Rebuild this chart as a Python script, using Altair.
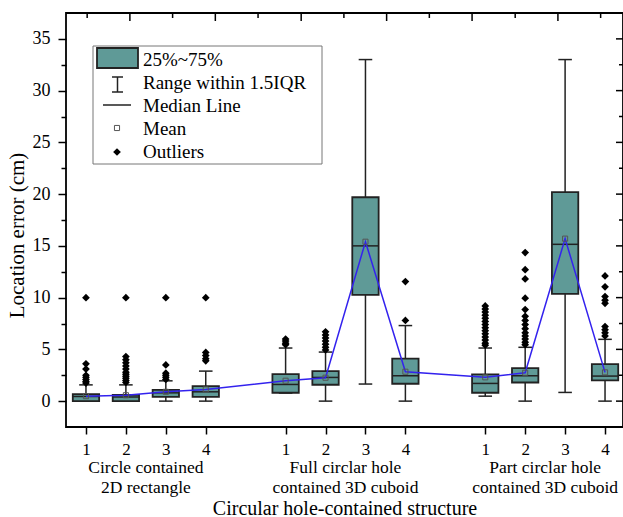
import altair as alt
import pandas as pd

# ---------------- data ----------------
positions = [1, 2, 3, 4, 6, 7, 8, 9, 11, 12, 13, 14]
group_of = [0, 0, 0, 0, 1, 1, 1, 1, 2, 2, 2, 2]
group_labels = ["Circle contained\n2D rectangle",
                "Full circlar hole\ncontained 3D cuboid",
                "Part circlar hole\ncontained 3D cuboid"]

q1_vals = [0.0, 0.0, 0.42, 0.42, 0.81, 1.58, 10.26, 1.68, 0.81, 1.80, 10.36, 2.00]
median_vals = [0.45, 0.40, 0.80, 0.90, 1.61, 2.29, 15.0, 2.45, 1.71, 2.45, 15.15, 2.42]
q3_vals = [0.67, 0.60, 1.09, 1.45, 2.61, 2.90, 19.7, 4.10, 2.58, 3.19, 20.2, 3.58]
low_vals = [0.0, 0.0, 0.0, 0.0, 0.78, 0.0, 1.65, 0.0, 0.48, 0.0, 0.84, 0.0]
high_vals = [1.57, 1.57, 1.96, 2.90, 5.13, 4.74, 33.0, 7.30, 5.13, 5.20, 33.0, 5.97]
mean_vals = [0.48, 0.57, 0.90, 1.13, 1.97, 2.26, 15.4, 2.84, 2.30, 2.74, 15.7, 2.78]

outlier_vals = [
    [10.0, 3.6, 3.1, 2.5, 2.3, 2.1, 1.9, 1.75],
    [10.0, 4.3, 4.0, 3.7, 3.4, 3.1, 2.8, 2.6, 2.4, 2.2, 2.0, 1.8],
    [10.0, 3.5, 2.7, 2.5, 2.3, 2.1],
    [10.0, 4.7, 4.4, 4.1, 3.9],
    [6.0, 5.8, 5.6, 5.45],
    [6.7, 6.4, 6.1, 5.8, 5.5, 5.2, 4.95],
    [],
    [11.55, 7.8],
    [9.2, 8.9, 8.6, 8.3, 8.0, 7.7, 7.4, 7.1, 6.8, 6.5, 6.2, 5.9, 5.6, 5.4],
    [14.35, 12.7, 11.8, 9.95, 8.85, 8.2, 7.8, 7.4, 7.0, 6.6, 6.3, 6.0, 5.7, 5.45],
    [],
    [12.1, 11.05, 10.1, 9.75, 9.45, 7.2, 6.9, 6.6, 6.3],
]

y_tick_vals = [0, 2.5, 5, 7.5, 10, 12.5, 15, 17.5, 20, 22.5, 25, 27.5, 30, 32.5, 35]
top_tick_vals = [1.03, 2.10, 3.17, 4.24, 5.31, 6.39, 7.46, 8.53, 9.60, 10.67, 11.75, 12.82, 13.89]

legend_labels = ["25%~75%", "Range within 1.5IQR", "Median Line", "Mean", "Outliers"]

# ---------------- style ----------------
W, H = 557, 414
FONT = "Liberation Serif"
TEAL = "#5f9a97"
EDGE = "#222222"
BLUE = "#3322ee"

stats = pd.DataFrame({
    "pos": positions, "q1": q1_vals, "med": median_vals, "q3": q3_vals,
    "lo": low_vals, "hi": high_vals, "mean": mean_vals,
})
out_df = pd.DataFrame([{"pos": p, "v": v} for p, vals in zip(positions, outlier_vals) for v in vals])
grp_df = pd.DataFrame({
    "g": group_labels,
    "gx": [sum(p for p, g in zip(positions, group_of) if g == k) / group_of.count(k) for k in range(3)],
})
ytick_df = pd.DataFrame({"t": y_tick_vals})
ytick_df["major"] = ytick_df["t"] % 5 == 0
ttick_df = pd.DataFrame({"t": top_tick_vals, "major": [i % 2 == 1 for i in range(len(top_tick_vals))]})

xscale = alt.Scale(domain=[0.5, 14.45], nice=False, zero=False)
yscale = alt.Scale(domain=[-2.5, 37.5], nice=False, zero=False)

x_axis = alt.Axis(
    values=positions,
    labelExpr="datum.value <= 4 ? datum.value : (datum.value <= 9 ? datum.value - 5 : datum.value - 10)",
    title="Circular hole-contained structure",
    grid=False, domain=False, tickColor="black", tickWidth=1.5, tickSize=7,
    labelFont=FONT, labelFontSize=17, labelColor="black", labelPadding=7,
    titleFont=FONT, titleFontSize=20, titleFontWeight="normal", titleColor="black",
    titleBaseline="middle", titleY=81,
)
y_axis = alt.Axis(
    values=y_tick_vals,
    labelExpr="datum.value % 5 === 0 ? datum.label : ''",
    tickSize={"condition": {"test": "datum.value % 5 === 0", "value": 8}, "value": 5},
    title="Location error (cm)",
    grid=False, domain=False, tickColor="black", tickWidth=1.5,
    labelFont=FONT, labelFontSize=18, labelColor="black", labelPadding=8,
    titleFont=FONT, titleFontSize=21, titleFontWeight="normal", titleColor="black",
    titleBaseline="middle", titleX=-49, titleY=222,
)


def X(field):
    return alt.X(field, scale=xscale, axis=x_axis)


def Y(field):
    return alt.Y(field, scale=yscale, axis=y_axis)


base = alt.Chart(stats).transform_calculate(
    bl="datum.pos - 0.33", br="datum.pos + 0.33",
    cl="datum.pos - 0.17", cr="datum.pos + 0.17",
)

whiskers = base.mark_rule(color=EDGE, strokeWidth=1.5).encode(
    x=X("pos:Q"), y=Y("lo:Q"), y2="hi:Q",
)
cap_hi = base.mark_rule(color=EDGE, strokeWidth=1.5).encode(
    x=X("cl:Q"), x2="cr:Q", y=Y("hi:Q"),
)
cap_lo = base.mark_rule(color=EDGE, strokeWidth=1.5).encode(
    x=X("cl:Q"), x2="cr:Q", y=Y("lo:Q"),
)
boxes = base.mark_rect(fill=TEAL, stroke=EDGE, strokeWidth=1.8).encode(
    x=X("bl:Q"), x2="br:Q", y=Y("q1:Q"), y2="q3:Q",
)
medians = base.mark_rule(color=EDGE, strokeWidth=1.5).encode(
    x=X("bl:Q"), x2="br:Q", y=Y("med:Q"),
)
outliers = alt.Chart(out_df).mark_point(shape="diamond", filled=True, color="black", size=60, opacity=1).encode(
    x=X("pos:Q"), y=Y("v:Q"),
)
mean_line = base.mark_line(color=BLUE, strokeWidth=1.5).encode(
    x=X("pos:Q"), y=Y("mean:Q"),
)
mean_pts = base.mark_point(shape="square", filled=False, color="#555555", size=26, strokeWidth=1, opacity=1).encode(
    x=X("pos:Q"), y=Y("mean:Q"),
)
groups = alt.Chart(grp_df).mark_text(
    font=FONT, fontSize=17.5, color="black", lineBreak="\n", lineHeight=20,
    baseline="alphabetic", align="center",
).encode(
    x=X("gx:Q"), y=alt.value(460), text="g:N",
)

right_major = alt.Chart(ytick_df).transform_filter("datum.major").mark_rule(color="black", strokeWidth=1.5).encode(
    y=Y("t:Q"), x=alt.value(W - 7), x2=alt.value(W),
)
right_minor = alt.Chart(ytick_df).transform_filter("!datum.major").mark_rule(color="black", strokeWidth=1.5).encode(
    y=Y("t:Q"), x=alt.value(W - 4), x2=alt.value(W),
)
top_major = alt.Chart(ttick_df).transform_filter("datum.major").mark_rule(color="black", strokeWidth=1.5).encode(
    x=X("t:Q"), y=alt.value(0), y2=alt.value(8),
)
top_minor = alt.Chart(ttick_df).transform_filter("!datum.major").mark_rule(color="black", strokeWidth=1.5).encode(
    x=X("t:Q"), y=alt.value(0), y2=alt.value(5),
)

# ---------------- legend ----------------
one = pd.DataFrame({"a": [0]})
lg_frame = alt.Chart(one).mark_rect(fill="white", stroke="#777777", strokeWidth=1).encode(
    x=alt.value(27), x2=alt.value(256), y=alt.value(33), y2=alt.value(151),
)
lg_box = alt.Chart(one).mark_rect(fill=TEAL, stroke=EDGE, strokeWidth=1.8).encode(
    x=alt.value(31), x2=alt.value(72), y=alt.value(35), y2=alt.value(55),
)
lg_ibeam_v = alt.Chart(one).mark_rule(color=EDGE, strokeWidth=1.5).encode(
    x=alt.value(51.5), y=alt.value(64), y2=alt.value(79),
)
lg_ibeam_t = alt.Chart(one).mark_rule(color=EDGE, strokeWidth=1.5).encode(
    x=alt.value(46), x2=alt.value(57), y=alt.value(64),
)
lg_ibeam_b = alt.Chart(one).mark_rule(color=EDGE, strokeWidth=1.5).encode(
    x=alt.value(46), x2=alt.value(57), y=alt.value(79),
)
lg_median = alt.Chart(one).mark_rule(color=EDGE, strokeWidth=1.5).encode(
    x=alt.value(37), x2=alt.value(65), y=alt.value(92),
)
lg_mean = alt.Chart(one).mark_point(shape="square", filled=False, color="#555555", size=26, strokeWidth=1, opacity=1).encode(
    x=alt.value(51), y=alt.value(115),
)
lg_out = alt.Chart(one).mark_point(shape="diamond", filled=True, color="black", size=60, opacity=1).encode(
    x=alt.value(51), y=alt.value(139),
)
lg_text_df = pd.DataFrame({"label": legend_labels, "row": list(range(len(legend_labels)))})
lg_text = alt.Chart(lg_text_df).transform_calculate(
    py="46.5 + datum.row * 23.2"
).mark_text(font=FONT, fontSize=19, color="black", align="left", baseline="middle").encode(
    x=alt.value(77),
    y=alt.Y("py:Q", scale=None, axis=None),
    text="label:N",
)

chart = alt.layer(
    whiskers, cap_hi, cap_lo, boxes, medians, outliers, mean_line, mean_pts, groups,
    right_major, right_minor, top_major, top_minor,
    lg_frame, lg_box, lg_ibeam_v, lg_ibeam_t, lg_ibeam_b, lg_median, lg_mean, lg_out, lg_text,
).properties(
    width=W, height=H,
    padding={"left": 66, "top": 13, "right": 0, "bottom": 90},
    autosize=alt.AutoSizeParams(type="none"),
    background="white",
).configure_view(stroke="black", strokeWidth=1.8)

chart.save("out.html", embed_options={"renderer": "svg", "actions": False})
